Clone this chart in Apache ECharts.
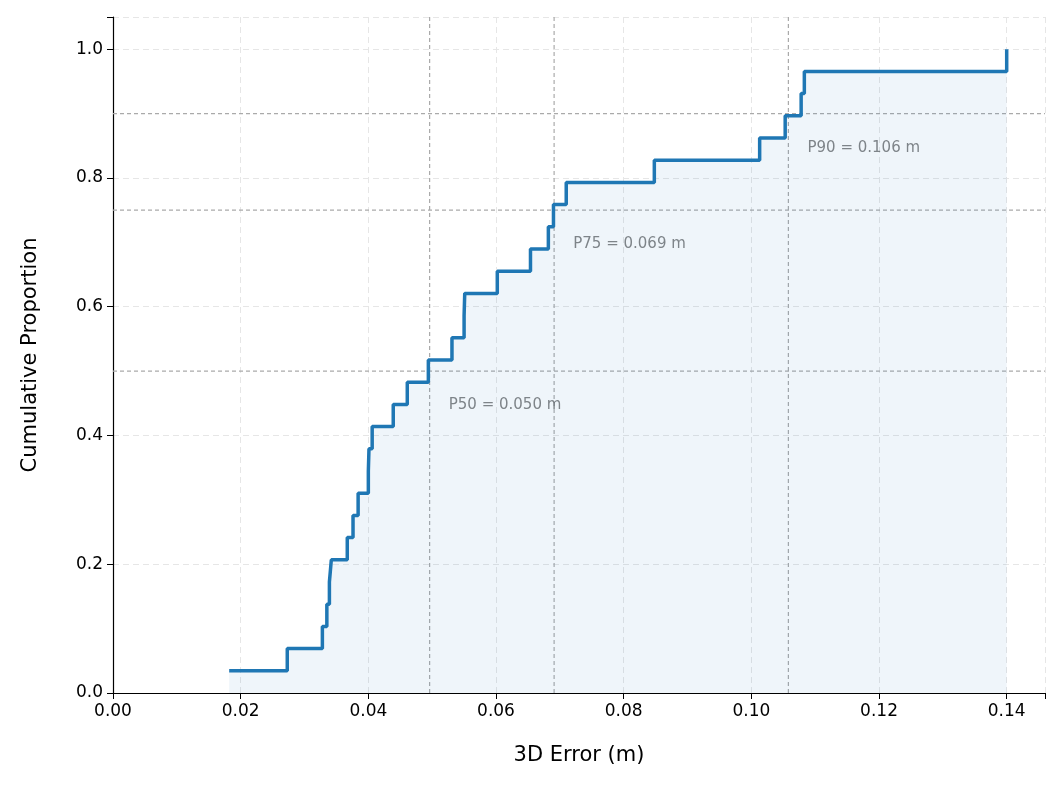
<!DOCTYPE html>
<html><head><meta charset="utf-8">
<script src="https://cdn.jsdelivr.net/npm/echarts@6/dist/echarts.min.js"></script>
<style>html,body{margin:0;padding:0;background:#fff}#c{width:1063px;height:791px}</style>
</head><body><div id="c"></div>
<script>
const errors = [0.0182,0.0273,0.0328,0.0335,0.0339,0.0342,0.0367,0.0376,0.0384,0.0400,0.0401,0.0406,0.0439,0.0461,0.0494,0.0531,0.0550,0.0551,0.0602,0.0654,0.0682,0.0690,0.0710,0.0848,0.1013,0.1053,0.1078,0.1083,0.1400];
const pctNames = ['P50','P75','P90'];
const pctLevels = [0.5,0.75,0.9];
const pctValues = [0.0496,0.0691,0.1058];
const pctLabels = ['P50 = 0.050 m','P75 = 0.069 m','P90 = 0.106 m'];
const xTicks = [0,0.02,0.04,0.06,0.08,0.10,0.12,0.14];

const n = errors.length;
const ecdf = errors.map((x,i)=>[x,(i+1)/n]);
const chart = echarts.init(document.getElementById('c'));
const dash = {type:[4,3],color:'#aaa',width:1.2};
const refLines = [];
pctValues.forEach(v=>refLines.push({type:'line',data:[[v,0],[v,1.05]],symbol:'none',lineStyle:dash,silent:true,z:1}));
pctLevels.forEach(v=>refLines.push({type:'line',data:[[0,v],[0.146,v]],symbol:'none',lineStyle:dash,silent:true,z:1}));
chart.setOption({
  animation:false,
  grid:{left:113,right:18,top:17,bottom:98},
  xAxis:{type:'value',min:0,max:0.146,interval:0.02,name:'3D Error (m)',nameLocation:'middle',nameGap:52,
    nameTextStyle:{fontSize:21,color:'#000',fontFamily:'DejaVu Sans'},
    axisLine:{lineStyle:{color:'#000',width:1.2}},axisTick:{show:true,length:6,lineStyle:{color:'#000'}},
    axisLabel:{fontSize:17,color:'#000',fontFamily:'DejaVu Sans',margin:10,
      formatter:v=>{const t=xTicks.find(t=>Math.abs(t-v)<1e-9);return t===undefined?'':t.toFixed(2);}},
    splitLine:{show:true,lineStyle:{type:[6,4],color:'#e6e6e6'}}},
  yAxis:{type:'value',min:0,max:1.05,interval:0.2,name:'Cumulative Proportion',nameLocation:'middle',nameGap:72,
    nameTextStyle:{fontSize:21,color:'#000',fontFamily:'DejaVu Sans'},
    axisLine:{show:true,lineStyle:{color:'#000',width:1.2}},axisTick:{show:true,length:6,lineStyle:{color:'#000'}},
    axisLabel:{fontSize:17,color:'#000',fontFamily:'DejaVu Sans',margin:10,
      formatter:v=>v>1.001?'':v.toFixed(1)},
    splitLine:{show:true,lineStyle:{type:[6,4],color:'#e6e6e6'}}},
  series:[
    ...refLines,
    {type:'line',step:'end',data:ecdf,symbol:'none',lineStyle:{color:'#1f77b4',width:3.5},z:3,
     areaStyle:{color:'rgba(31,119,180,0.1)'}},
    {type:'scatter',symbolSize:0,data:pctValues.map((v,i)=>[v+0.003,pctLevels[i]-0.053]),
     label:{show:true,position:'right',distance:0,fontSize:15,color:'#666',fontFamily:'DejaVu Sans',
       formatter:p=>pctLabels[p.dataIndex]}}
  ]
});
</script></body></html>
